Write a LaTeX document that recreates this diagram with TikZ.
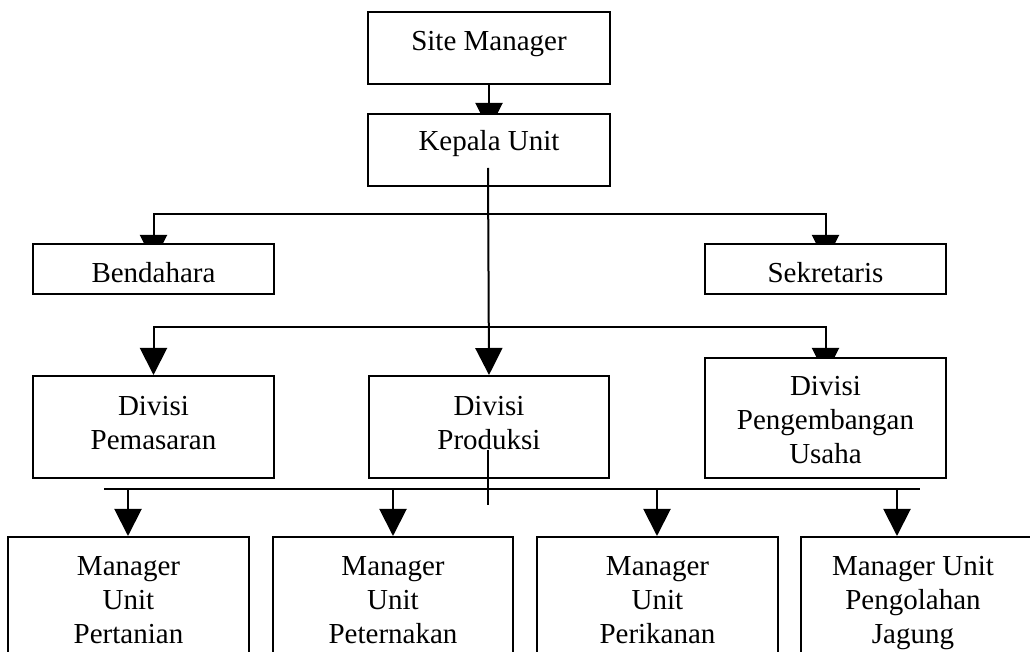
\documentclass[tikz,border=0pt]{standalone}
\usepackage{fontspec}
\setmainfont{Liberation Serif}
\usetikzlibrary{arrows.meta,backgrounds,calc}
\begin{document}
\begin{tikzpicture}[x=0.5pt,y=-0.5pt,
  box/.style={draw,line width=1pt,fill=white,inner sep=0pt,anchor=north west,
    font={\fontsize{14.5}{17}\selectfont}},
  conn/.style={line width=1pt},
  arr/.style={conn,-{Triangle[width=13.5pt,length=13.5pt]}}]
\useasboundingbox (0,0) rectangle (1030,652);
\clip (0,0) rectangle (1030,652);
% boxes
\node[box,minimum width=121pt,text height=19.5pt,text depth=16.5pt] (sm) at (367,11)
  {\begin{tabular}[t]{@{}c@{}}Site Manager\end{tabular}};
\node[box,minimum width=121pt,text height=18.5pt,text depth=17.5pt] (ku) at (367,113)
  {\begin{tabular}[t]{@{}c@{}}Kepala Unit\end{tabular}};
\node[box,minimum width=120.5pt,text height=19.5pt,text depth=5.5pt] (bend) at (32,243)
  {\begin{tabular}[t]{@{}c@{}}Bendahara\end{tabular}};
\node[box,minimum width=120.5pt,text height=19.5pt,text depth=5.5pt] (sekr) at (704,243)
  {\begin{tabular}[t]{@{}c@{}}Sekretaris\end{tabular}};
\node[box,minimum width=120.5pt,text height=20pt,text depth=31pt] (dpem) at (32,375)
  {\begin{tabular}[t]{@{}c@{}}Divisi\\Pemasaran\end{tabular}};
\node[box,minimum width=120pt,text height=20pt,text depth=31pt] (dprod) at (368,375)
  {\begin{tabular}[t]{@{}c@{}}Divisi\\Produksi\end{tabular}};
\node[box,minimum width=120.5pt,text height=19pt,text depth=41pt] (dpeng) at (704,357)
  {\begin{tabular}[t]{@{}c@{}}Divisi\\Pengembangan\\Usaha\end{tabular}};
\node[box,minimum width=120.5pt,text height=19.5pt,text depth=62.5pt] (m1) at (7,536)
  {\begin{tabular}[t]{@{}c@{}}Manager\\Unit\\Pertanian\end{tabular}};
\node[box,minimum width=120pt,text height=19.5pt,text depth=62.5pt] (m2) at (272,536)
  {\begin{tabular}[t]{@{}c@{}}Manager\\Unit\\Peternakan\end{tabular}};
\node[box,minimum width=120.5pt,text height=19.5pt,text depth=62.5pt] (m3) at (536,536)
  {\begin{tabular}[t]{@{}c@{}}Manager\\Unit\\Perikanan\end{tabular}};
\node[box,minimum width=120pt,text height=19.5pt,text depth=62.5pt] (m4) at (800,536)
  {\begin{tabular}[t]{@{}c@{\hspace{8pt}}}Manager Unit\\Pengolahan\\Jagung\end{tabular}};
% coordinates
\coordinate (kuin) at (488,168);
\coordinate (t1) at (488,214);
\coordinate (t2) at (488,327);
\coordinate (dprodin) at (488,450);
\coordinate (crossend) at (488,505);
\coordinate (busL) at (104,489);
\coordinate (busR) at (920,489);
\coordinate (a1) at (128,489);
\coordinate (a2) at (393,489);
\coordinate (a3) at (657,489);
\coordinate (a4) at (897,489);
% connectors partly hidden behind boxes
\begin{pgfonlayer}{background}
\draw[arr] (sm.south) -- ($(ku.north)+(0,17)$);
\draw[arr] (t1) -| ($(bend.north)+(0,19)$);
\draw[arr] (t1) -| ($(sekr.north)+(0,19)$);
\draw[arr] (t2) -| (dpem.north);
\draw[arr] (t2) -| ($(dpeng.north)+(0,18)$);
\end{pgfonlayer}
% connectors on top
\draw[arr] (kuin) -- (dprod.north);
\draw[conn] (busL) -- (busR);
\draw[conn] (dprodin) -- (crossend);
\draw[arr] (a1) -- (a1 |- m1.north);
\draw[arr] (a2) -- (a2 |- m2.north);
\draw[arr] (a3) -- (a3 |- m3.north);
\draw[arr] (a4) -- (a4 |- m4.north);
\end{tikzpicture}
\end{document}
